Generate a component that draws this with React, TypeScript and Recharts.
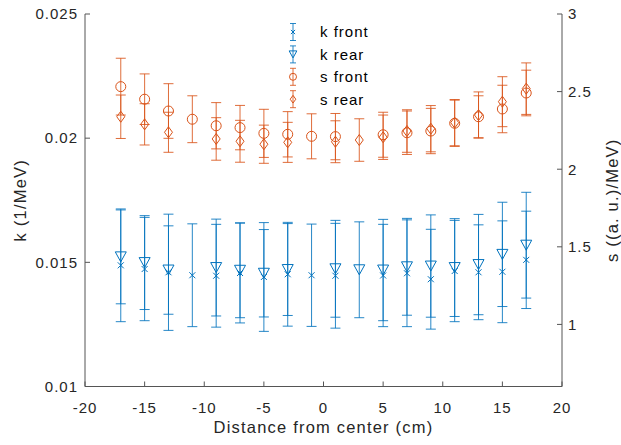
import { ComposedChart, ErrorBar, Legend, Scatter, XAxis, YAxis } from 'recharts';

const positions = [-17, -15, -13, -11, -9, -7, -5, -3, -1, 1, 3, 5, 7, 9, 11, 13, 15, 17];

const kFront = [0.01488, 0.01473, 0.0146, 0.01448, 0.01446, 0.01457, 0.01441, 0.01452, 0.01448, 0.01446, null, 0.01447, 0.01456, 0.01432, 0.01465, 0.0146, 0.01462, 0.0151];
const kFrontErr = [0.00227, 0.00208, 0.00234, 0.00207, 0.00207, 0.00201, 0.00219, 0.00209, 0.00206, 0.00211, null, 0.00206, 0.00215, 0.00201, 0.00204, 0.00191, 0.00205, 0.00196];
const kRear = [0.01522, 0.01499, 0.01469, null, 0.01479, 0.01468, 0.01456, 0.01471, null, 0.01474, 0.0147, 0.01469, 0.01482, 0.01485, 0.01479, 0.01491, 0.01532, 0.01569];
const kRearErr = [0.00189, 0.00189, 0.00178, null, 0.00195, 0.00191, 0.00176, 0.00185, null, 0.00195, 0.00193, 0.00204, 0.00195, 0.00206, 0.00197, 0.00202, 0.0021, 0.00213];

const sFront = [2.532, 2.451, 2.375, 2.322, 2.28, 2.268, 2.231, 2.225, 2.212, 2.21, null, 2.222, 2.235, 2.246, 2.296, 2.338, 2.388, 2.491];
const sFrontErr = [0.183, 0.163, 0.176, 0.151, 0.149, 0.143, 0.155, 0.146, 0.145, 0.149, null, 0.145, 0.14, 0.146, 0.149, 0.135, 0.153, 0.147];
const sRear = [2.338, 2.289, 2.238, null, 2.195, 2.18, 2.161, 2.173, null, 2.177, 2.188, 2.206, 2.246, 2.261, 2.3, 2.349, 2.435, 2.519];
const sRearErr = [0.14, 0.133, 0.129, null, 0.137, 0.135, 0.123, 0.129, null, 0.135, 0.137, 0.143, 0.137, 0.149, 0.149, 0.149, 0.161, 0.166];

const xTicks = [-20, -15, -10, -5, 0, 5, 10, 15, 20];
const kTicks = [0.01, 0.015, 0.02, 0.025];
const sTicks = [1, 1.5, 2, 2.5, 3];

const legendNames = ['k front', 'k rear', 's front', 's rear'];

const BLUE = '#0072BD';
const ORANGE = '#D95319';
const AXIS = '#555555';
const TEXT = '#262626';
const FONT = '"Liberation Sans", Arial, sans-serif';

function toPoints(values: (number | null)[], errors: (number | null)[]) {
  const out: { x: number; y: number; e: number }[] = [];
  positions.forEach((x, i) => {
    const y = values[i];
    const e = errors[i];
    if (y != null && e != null) out.push({ x, y, e });
  });
  return out;
}

const kFrontData = toPoints(kFront, kFrontErr);
const kRearData = toPoints(kRear, kRearErr);
const sFrontData = toPoints(sFront, sFrontErr);
const sRearData = toPoints(sRear, sRearErr);

type Mark = 'x' | 'tri' | 'circle' | 'diamond';

function Marker({ kind, cx, cy, color, s = 1 }: { kind: Mark; cx: number; cy: number; color: string; s?: number }) {
  if (kind === 'x') {
    const r = 3 * s;
    return (
      <g stroke={color} strokeWidth={1}>
        <line x1={cx - r} y1={cy - r} x2={cx + r} y2={cy + r} />
        <line x1={cx - r} y1={cy + r} x2={cx + r} y2={cy - r} />
      </g>
    );
  }
  if (kind === 'tri') {
    const w = 5.5 * s;
    const h = 5 * s;
    return <polygon points={`${cx - w},${cy - h} ${cx + w},${cy - h} ${cx},${cy + h}`} fill="none" stroke={color} strokeWidth={1} />;
  }
  if (kind === 'circle') {
    return <circle cx={cx} cy={cy} r={5 * s} fill="none" stroke={color} strokeWidth={1} />;
  }
  const w = 4 * s;
  const h = 5.5 * s;
  return <polygon points={`${cx},${cy - h} ${cx + w},${cy} ${cx},${cy + h} ${cx - w},${cy}`} fill="none" stroke={color} strokeWidth={1} />;
}

const legendMarks: Mark[] = ['x', 'tri', 'circle', 'diamond'];
const legendColors = [BLUE, BLUE, ORANGE, ORANGE];

function LegendBox() {
  return (
    <svg width={120} height={94} style={{ display: 'block' }}>
      {legendNames.map((name, i) => {
        const cy = 12 + i * 22.4;
        const c = legendColors[i];
        return (
          <g key={name}>
            <g stroke={c} strokeWidth={1} strokeOpacity={0.85}>
              <line x1={13} y1={cy - 8.5} x2={13} y2={cy + 8.5} />
              <line x1={10} y1={cy - 8.5} x2={16} y2={cy - 8.5} />
              <line x1={10} y1={cy + 8.5} x2={16} y2={cy + 8.5} />
            </g>
            <Marker kind={legendMarks[i]} cx={13} cy={cy} color={c} s={0.7} />
            <text x={40} y={cy + 5.3} fontSize={15} fill="#000" fontFamily={FONT} letterSpacing={1}>
              {name}
            </text>
          </g>
        );
      })}
    </svg>
  );
}

const tickStyle = { fontSize: 15, fill: TEXT, fontFamily: FONT, letterSpacing: 1 };

export default function App() {
  return (
    <div style={{ position: 'absolute', left: 0, top: 0, width: 621, height: 445, background: '#fff' }}>
      <ComposedChart width={621} height={445} margin={{ top: 14, right: 0, bottom: 0, left: 0 }}>
        <XAxis
          xAxisId="b"
          type="number"
          dataKey="x"
          domain={[-20, 20]}
          ticks={xTicks}
          height={58.5}
          tickSize={-5}
          tickMargin={21}
          stroke={AXIS}
          tick={tickStyle}
          label={{
            content: ({ viewBox }: any) => (
              <text
                x={viewBox.x + viewBox.width / 2}
                y={viewBox.y + 46.5}
                textAnchor="middle"
                fontSize={16.5}
                fill={TEXT}
                fontFamily={FONT}
                letterSpacing={1.2}
              >
                Distance from center (cm)
              </text>
            ),
          }}
        />
        <XAxis
          xAxisId="t"
          orientation="top"
          type="number"
          domain={[-20, 20]}
          ticks={xTicks}
          height={0}
          tickSize={-5}
          tick={false}
          stroke={AXIS}
        />
        <YAxis
          yAxisId="k"
          orientation="left"
          type="number"
          dataKey="y"
          domain={[0.01, 0.025]}
          ticks={kTicks}
          width={85}
          tickSize={-5}
          tickMargin={12}
          stroke={AXIS}
          tick={tickStyle}
          label={{
            content: ({ viewBox }: any) => {
              const cx = viewBox.x + 20;
              const cy = viewBox.y + viewBox.height / 2;
              return (
                <text
                  x={cx}
                  y={cy}
                  dy="0.35em"
                  transform={`rotate(-90 ${cx} ${cy})`}
                  textAnchor="middle"
                  fontSize={16.5}
                  fill={TEXT}
                  fontFamily={FONT}
                  letterSpacing={1.2}
                >
                  k (1/MeV)
                </text>
              );
            },
          }}
        />
        <YAxis
          yAxisId="s"
          orientation="right"
          type="number"
          dataKey="y"
          domain={[0.6, 3]}
          ticks={sTicks}
          width={59}
          tickSize={-5}
          tickMargin={11}
          stroke={AXIS}
          tick={tickStyle}
          label={{
            content: ({ viewBox }: any) => {
              const cx = viewBox.x + 50;
              const cy = viewBox.y + viewBox.height / 2;
              return (
                <text
                  x={cx}
                  y={cy}
                  dy="0.35em"
                  transform={`rotate(-90 ${cx} ${cy})`}
                  textAnchor="middle"
                  fontSize={16.5}
                  fill={TEXT}
                  fontFamily={FONT}
                  letterSpacing={1.2}
                >
                  s ((a. u.)/MeV)
                </text>
              );
            },
          }}
        />
        <Legend
          layout="vertical"
          align="center"
          verticalAlign="middle"
          wrapperStyle={{ position: 'absolute', left: 280, top: 20, width: 120, height: 94 }}
          content={() => <LegendBox />}
        />
        <Scatter
          name="k front"
          data={kFrontData}
          xAxisId="b"
          yAxisId="k"
          isAnimationActive={false}
          shape={(p: any) => <Marker kind="x" cx={p.cx} cy={p.cy} color={BLUE} />}
        >
          <ErrorBar dataKey="e" direction="y" width={5} stroke={BLUE} strokeWidth={1} strokeOpacity={0.85} isAnimationActive={false} />
        </Scatter>
        <Scatter
          name="k rear"
          data={kRearData}
          xAxisId="b"
          yAxisId="k"
          isAnimationActive={false}
          shape={(p: any) => <Marker kind="tri" cx={p.cx} cy={p.cy} color={BLUE} />}
        >
          <ErrorBar dataKey="e" direction="y" width={5} stroke={BLUE} strokeWidth={1} strokeOpacity={0.85} isAnimationActive={false} />
        </Scatter>
        <Scatter
          name="s front"
          data={sFrontData}
          xAxisId="b"
          yAxisId="s"
          isAnimationActive={false}
          shape={(p: any) => <Marker kind="circle" cx={p.cx} cy={p.cy} color={ORANGE} />}
        >
          <ErrorBar dataKey="e" direction="y" width={5} stroke={ORANGE} strokeWidth={1} strokeOpacity={0.85} isAnimationActive={false} />
        </Scatter>
        <Scatter
          name="s rear"
          data={sRearData}
          xAxisId="b"
          yAxisId="s"
          isAnimationActive={false}
          shape={(p: any) => <Marker kind="diamond" cx={p.cx} cy={p.cy} color={ORANGE} />}
        >
          <ErrorBar dataKey="e" direction="y" width={5} stroke={ORANGE} strokeWidth={1} strokeOpacity={0.85} isAnimationActive={false} />
        </Scatter>
      </ComposedChart>
    </div>
  );
}
